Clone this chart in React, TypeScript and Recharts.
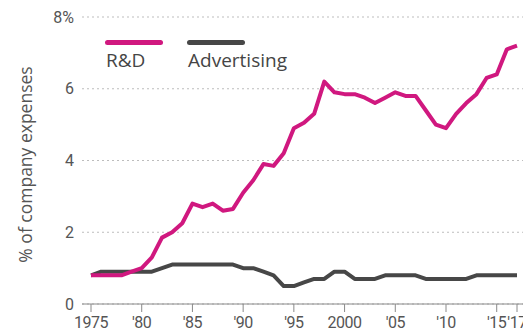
import { LineChart, Line, XAxis, YAxis, CartesianGrid, Legend } from 'recharts';

const years = [
  1975, 1976, 1977, 1978, 1979, 1980, 1981, 1982, 1983, 1984, 1985, 1986, 1987, 1988, 1989,
  1990, 1991, 1992, 1993, 1994, 1995, 1996, 1997, 1998, 1999, 2000, 2001, 2002, 2003, 2004,
  2005, 2006, 2007, 2008, 2009, 2010, 2011, 2012, 2013, 2014, 2015, 2016, 2017,
];

const rdValues = [
  0.8, 0.8, 0.8, 0.8, 0.9, 1.0, 1.3, 1.85, 2.0, 2.25, 2.8, 2.7, 2.8, 2.6, 2.65,
  3.1, 3.45, 3.9, 3.85, 4.2, 4.9, 5.05, 5.3, 6.2, 5.9, 5.85, 5.85, 5.75, 5.6, 5.75,
  5.9, 5.8, 5.8, 5.4, 5.0, 4.9, 5.3, 5.6, 5.85, 6.3, 6.4, 7.1, 7.2,
];

const adValues = [
  0.8, 0.9, 0.9, 0.9, 0.9, 0.9, 0.9, 1.0, 1.1, 1.1, 1.1, 1.1, 1.1, 1.1, 1.1,
  1.0, 1.0, 0.9, 0.8, 0.5, 0.5, 0.6, 0.7, 0.7, 0.9, 0.9, 0.7, 0.7, 0.7, 0.8,
  0.8, 0.8, 0.8, 0.7, 0.7, 0.7, 0.7, 0.7, 0.8, 0.8, 0.8, 0.8, 0.8,
];

const xTicks = [1975, 1980, 1985, 1990, 1995, 2000, 2005, 2010, 2015, 2017];
const yTicks = [0, 2, 4, 6, 8];

const RD_COLOR = '#d0187f';
const AD_COLOR = '#474747';

const legendItems = [
  { name: 'R&D', color: RD_COLOR },
  { name: 'Advertising', color: AD_COLOR },
];

const data = years.map((year, i) => ({ year, rd: rdValues[i], ad: adValues[i] }));

const formatYear = (y: number) => (y === 1975 || y === 2000 ? String(y) : `'${String(y).slice(2)}`);

function renderLegend() {
  return (
    <div style={{ display: 'flex', gap: 24, fontFamily: '"Open Sans", sans-serif' }}>
      {legendItems.map((item) => (
        <div key={item.name}>
          <div style={{ width: 58, height: 5, borderRadius: 3, background: item.color }} />
          <div style={{ marginTop: 4, marginLeft: 1, fontSize: 19, lineHeight: '22px', color: '#454545' }}>
            {item.name}
          </div>
        </div>
      ))}
    </div>
  );
}

function AxisTitle({ viewBox }: { viewBox?: { y: number; height: number } }) {
  const cy = viewBox ? viewBox.y + viewBox.height / 2 : 160;
  return (
    <text
      x={32}
      y={cy + 4}
      transform={`rotate(-90, 32, ${cy + 4})`}
      textAnchor="middle"
      fill="#555"
      fontSize={17.5}
      fontFamily='"Open Sans", sans-serif'
    >
      % of company expenses
    </text>
  );
}

export default function App() {
  return (
    <div style={{ position: 'absolute', left: 0, top: 0 }}>
      <LineChart width={523} height={334} data={data} margin={{ top: 17, right: 0, left: 0, bottom: 0 }}>
        <CartesianGrid vertical={false} stroke="#bdbdbd" strokeDasharray="2 3" />
        <XAxis
          dataKey="year"
          type="number"
          domain={[1975, 2017]}
          ticks={xTicks}
          interval={0}
          padding={{ left: 9, right: 6 }}
          tickFormatter={formatYear}
          height={30}
          tickSize={8}
          tickMargin={5}
          stroke="#8a8a8a"
          tick={{ fill: '#555', fontSize: 16, letterSpacing: -0.5, fontFamily: 'Roboto, sans-serif' }}
        />
        <YAxis
          domain={[0, 8]}
          ticks={yTicks}
          width={82}
          axisLine={false}
          tickLine={false}
          tickFormatter={(v: number) => (v === 8 ? '8%' : String(v))}
          tick={{ fill: '#555', fontSize: 16, fontFamily: 'Roboto, sans-serif' }}
          label={<AxisTitle />}
        />
        <Legend
          content={renderLegend}
          layout="horizontal"
          verticalAlign="middle"
          align="center"
          wrapperStyle={{ top: 40, left: 105, width: 'auto' }}
        />
        <Line
          dataKey="ad"
          stroke={AD_COLOR}
          strokeWidth={4}
          dot={false}
          strokeLinejoin="round"
          isAnimationActive={false}
        />
        <Line
          dataKey="rd"
          stroke={RD_COLOR}
          strokeWidth={4}
          dot={false}
          strokeLinejoin="round"
          isAnimationActive={false}
        />
      </LineChart>
    </div>
  );
}
